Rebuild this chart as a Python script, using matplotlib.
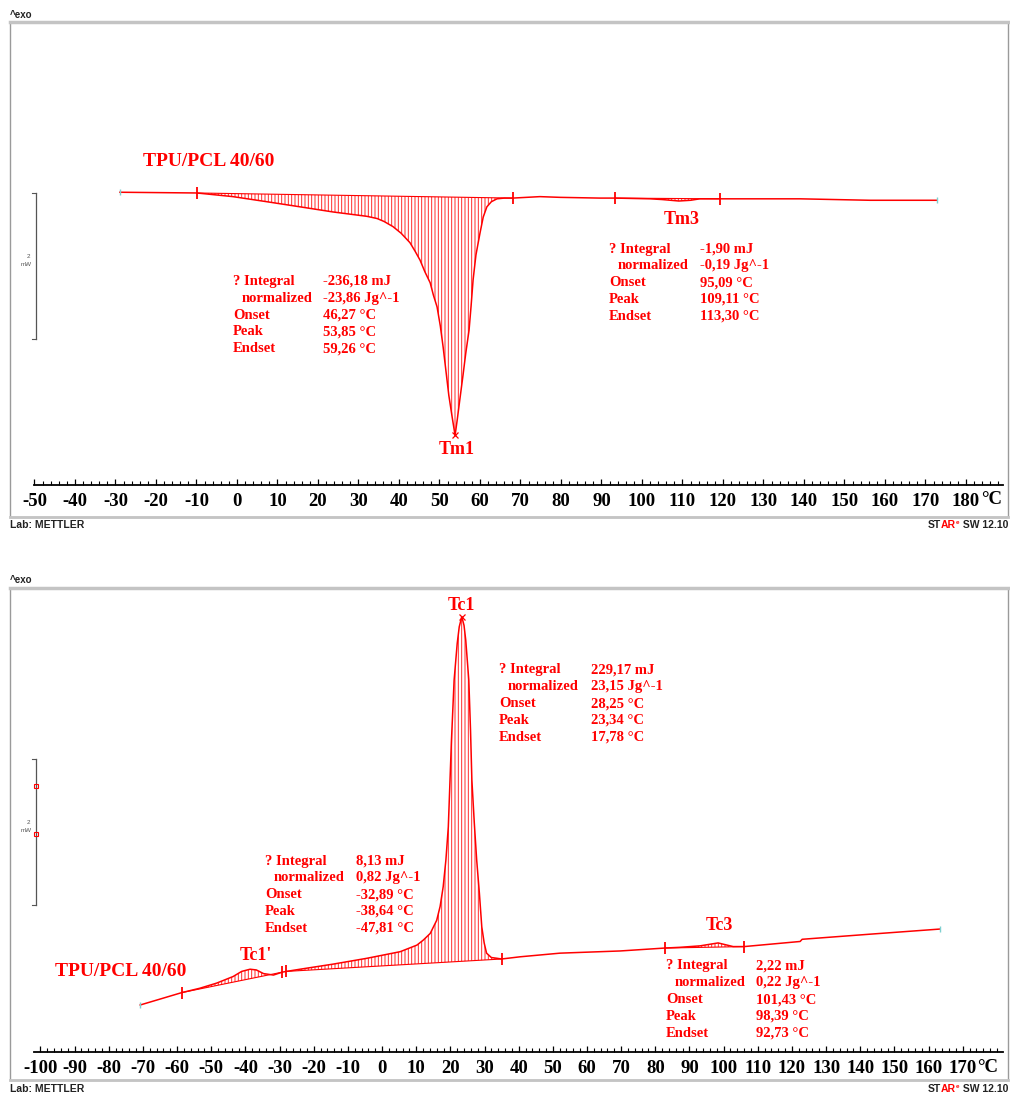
import numpy as np
import matplotlib
matplotlib.use("Agg")
import matplotlib.pyplot as plt
from matplotlib.ticker import MultipleLocator, FixedLocator
from matplotlib.lines import Line2D
from matplotlib.patches import Rectangle

# ------------------------------------------------------------------ data
sample_name = "TPU/PCL 40/60"

# heating run (top panel): temperature (°C) and heat flow (mW)
heat_T = [-28.9, -9.9, -1.0, 7.4, 15.6, 23.7, 32.1, 34.6, 36.3, 38.5, 40.5, 42.7,
          44.0, 45.2, 46.4, 47.7, 48.5, 49.4, 50.2, 50.9, 51.6, 52.3, 53.1, 53.85,
          54.4, 55.0, 55.8, 56.5, 57.3, 57.8, 58.3, 59.0, 60.0, 60.8, 61.7, 62.8,
          64.2, 66.0, 68.1, 74.8, 79.8, 89.6, 93.3, 102.0, 105.0, 109.11, 112.0,
          114.3, 119.3, 139.0, 156.3, 172.8]
heat_mW = [0.01, 0.00, -0.05, -0.12, -0.19, -0.26, -0.32, -0.35, -0.39, -0.46, -0.55,
           -0.68, -0.80, -0.92, -1.08, -1.23, -1.40, -1.56, -1.82, -2.11, -2.44, -2.77,
           -3.06, -3.32, -3.10, -2.84, -2.50, -2.19, -1.88, -1.55, -1.19, -0.85, -0.55,
           -0.33, -0.19, -0.12, -0.08, -0.07, -0.07, -0.05, -0.06, -0.07, -0.07, -0.08,
           -0.09, -0.11, -0.10, -0.08, -0.08, -0.08, -0.10, -0.10]

# cooling run (bottom panel)
cool_T = [-70.8, -58.6, -53.3, -48.4, -43.6, -41.1, -38.64, -36.8, -34.7, -31.8,
          -29.2, -28.0, -24.0, -14.3, -4.4, 5.3, 10.2, 12.1, 14.1, 16.0, 17.0, 17.9,
          18.7, 19.4, 19.9, 20.3, 21.1, 22.0, 22.6, 23.34, 24.0, 24.5, 25.4, 25.9,
          26.3, 27.0, 27.7, 28.5, 29.2, 29.9, 30.6, 32.0, 33.6, 35.0, 40.4, 52.1,
          69.7, 82.8, 87.2, 93.1, 98.39, 102.8, 106.0, 122.4, 123.0, 142.9, 163.3]
cool_mW = [0.00, 0.17, 0.23, 0.30, 0.39, 0.46, 0.49, 0.48, 0.43, 0.41, 0.45, 0.46,
           0.49, 0.56, 0.64, 0.73, 0.82, 0.89, 0.98, 1.16, 1.35, 1.62, 1.99, 2.44,
           3.08, 3.60, 4.45, 4.95, 5.18, 5.32, 5.20, 5.00, 4.45, 3.77, 3.08, 2.50,
           1.99, 1.53, 1.07, 0.85, 0.71, 0.65, 0.64, 0.63, 0.66, 0.71, 0.74, 0.78,
           0.79, 0.81, 0.85, 0.80, 0.80, 0.87, 0.90, 0.97, 1.04]

# integration limits (°C)
heat_limits = [(-9.9, 68.1), (93.3, 119.3)]
cool_limits = [(-58.6, -29.2), (-28.0, 35.0), (82.8, 106.0)]

heat_peaks = [53.85, 109.11]
cool_peaks = [-38.64, 23.34, 98.39]
heat_peak_names = ["Tm1", "Tm3"]
cool_peak_names = ["Tc1'", "Tc1", "Tc3"]

row_labels = ["? Integral", "normalized", "Onset", "Peak", "Endset"]
heat_results = [
    ["-236,18 mJ", "-23,86 Jg^-1", "46,27 °C", "53,85 °C", "59,26 °C"],
    ["-1,90 mJ", "-0,19 Jg^-1", "95,09 °C", "109,11 °C", "113,30 °C"],
]
cool_results = [
    ["8,13 mJ", "0,82 Jg^-1", "-32,89 °C", "-38,64 °C", "-47,81 °C"],
    ["229,17 mJ", "23,15 Jg^-1", "28,25 °C", "23,34 °C", "17,78 °C"],
    ["2,22 mJ", "0,22 Jg^-1", "101,43 °C", "98,39 °C", "92,73 °C"],
]

heat_ticks = list(range(-50, 181, 10))
cool_ticks = list(range(-100, 171, 10))

# ------------------------------------------------------------------ layout
W, H = 1010, 1097
RED = "#ff0000"
SERIF = "Liberation Serif"
SANS = "Liberation Sans"
TICK_FS = 13.5
plt.rcParams["hatch.linewidth"] = 0.7

fig = plt.figure(figsize=(W / 100, H / 100), dpi=100)


def fxy(x, y):
    return x / W, 1 - y / H


def ftext(x, y, s, **kw):
    fx, fy = fxy(x, y)
    return fig.text(fx, fy, s, **kw)


def fline(xs, ys, **kw):
    fx = [x / W for x in xs]
    fy = [1 - y / H for y in ys]
    fig.add_artist(Line2D(fx, fy, transform=fig.transFigure, **kw))


def frame(y_top, y_bot):
    x0, y0 = fxy(10, y_bot)
    fig.add_artist(Rectangle((x0, y0), 998 / W, (y_bot - y_top) / H,
                             transform=fig.transFigure, facecolor="none",
                             edgecolor="#9a9a9a", lw=1.0, zorder=0))
    fline([10, 1008], [y_top, y_top], color="#c4c4c4", lw=2.5, zorder=0)
    fline([10, 1008], [y_bot, y_bot], color="#c4c4c4", lw=2.0, zorder=0)


def panel(axis_y, top_y, xlim, ylim, T, mW, limits, ticks, xmark_peaks):
    ax = fig.add_axes([34 / W, 1 - axis_y / H, 969 / W, (axis_y - top_y) / H])
    ax.set_facecolor("none")
    ax.set_xlim(*xlim)
    ax.set_ylim(*ylim)
    for s in ("top", "left", "right"):
        ax.spines[s].set_visible(False)
    ax.spines["bottom"].set_linewidth(1.3)
    ax.set_yticks([])
    ax.xaxis.set_major_locator(FixedLocator(ticks))
    ax.xaxis.set_minor_locator(MultipleLocator(2))
    ax.set_xticklabels([str(t) for t in ticks], fontfamily=SERIF,
                       fontweight="bold", fontsize=TICK_FS)
    ax.tick_params(axis="x", which="major", direction="in", length=4.5,
                   width=0.9, pad=5.5)
    ax.tick_params(axis="x", which="minor", direction="in", length=3.2,
                   width=0.8)

    Ta = np.array(T)
    Va = np.array(mW)
    # hatched integration areas (closed polygon -> straight baseline)
    for (t0, t1) in limits:
        m = (Ta >= t0) & (Ta <= t1)
        ax.fill(Ta[m], Va[m], facecolor="none", edgecolor="#ff2a2a",
                hatch="|||||", lw=0, zorder=2)
        i0, i1 = T.index(t0), T.index(t1)
        ax.plot([T[i0], T[i1]], [mW[i0], mW[i1]], color=RED, lw=0.8, zorder=3)
        ax.plot([T[i0], T[i1]], [mW[i0], mW[i1]], ls="none", marker="|",
                ms=8, mew=1.3, color=RED, zorder=4)
    ax.plot(T, mW, color=RED, lw=1.1, zorder=4)
    ax.plot([T[0], T[-1]], [mW[0], mW[-1]], ls="none", marker="|", ms=4,
            mew=1.0, color="#7fd0d0", zorder=5)
    for p in xmark_peaks:
        i = T.index(p)
        ax.plot([T[i]], [mW[i]], ls="none", marker="x", ms=4, mew=0.9,
                color=RED, zorder=5)
    return ax


def result_block(x, y, xv, values):
    dy = 16.8
    for k, (lab, val) in enumerate(zip(row_labels, values)):
        xl = x + 8.5 if k == 1 else x
        ftext(xl, y + k * dy, lab, ha="left", va="center", color=RED,
              fontfamily=SERIF, fontweight="bold", fontsize=10.5)
        ftext(xv, y + k * dy, val, ha="left", va="center", color=RED,
              fontfamily=SERIF, fontweight="bold", fontsize=10.5)


def footer(y):
    ftext(10, y, "Lab: METTLER", ha="left", va="center", fontsize=7.5,
          fontfamily=SANS, fontweight="bold", color="#222222")
    fig.canvas.draw()
    r = fig.canvas.get_renderer()
    t = ftext(1008, y, " SW 12.10", ha="right", va="center", fontsize=7.5,
              fontfamily=SANS, fontweight="bold", color="#222222")
    xl = t.get_window_extent(renderer=r).x0
    t = ftext(xl, y - 3, "e", ha="right", va="center", fontsize=4.5,
              fontfamily=SANS, fontweight="bold", color=RED)
    xl = t.get_window_extent(renderer=r).x0
    t = ftext(xl, y, "AR", ha="right", va="center", fontsize=7.5,
              fontfamily=SANS, fontweight="bold", color=RED)
    xl = t.get_window_extent(renderer=r).x0
    ftext(xl, y, "ST", ha="right", va="center", fontsize=7.5,
          fontfamily=SANS, fontweight="bold", color="#222222")


def scale_bar(y0, y1, ytxt, squares=()):
    fline([36, 36], [y0, y1], color="#555555", lw=0.9)
    fline([32, 36], [y0, y0], color="#555555", lw=0.8)
    fline([32, 36], [y1, y1], color="#555555", lw=0.8)
    ftext(28, ytxt - 5, "2", ha="center", va="center", fontsize=4.5,
          fontfamily=SANS, color="#555555")
    ftext(26, ytxt + 3, "mW", ha="center", va="center", fontsize=4.5,
          fontfamily=SANS, color="#555555")
    for ys in squares:
        fx, fy = fxy(36, ys)
        fig.add_artist(Line2D([fx], [fy], transform=fig.transFigure, ls="none",
                              marker="s", ms=3.5, mfc="none", mec=RED, mew=0.8))


# ------------------------------------------------------------------ top panel
ftext(10, 15, "^exo", ha="left", va="center", fontsize=7, fontfamily=SANS,
      fontweight="bold", color="#222222")
frame(22, 517)
panel(485, 22, (-50.12, 189.14), (-4.0, 2.342), heat_T, heat_mW, heat_limits,
      heat_ticks, [53.85])
ftext(992, 500, "°C", ha="center", va="center", fontfamily=SERIF,
      fontweight="bold", fontsize=TICK_FS)
scale_bar(193, 339, 262)
ftext(143, 162, sample_name, ha="left", va="center", color=RED,
      fontfamily=SERIF, fontweight="bold", fontsize=14)
ftext(457, 450, heat_peak_names[0], ha="center", va="center", color=RED,
      fontfamily=SERIF, fontweight="bold", fontsize=13)
ftext(682, 219, heat_peak_names[1], ha="center", va="center", color=RED,
      fontfamily=SERIF, fontweight="bold", fontsize=13)
result_block(233, 281.5, 323, heat_results[0])
result_block(609, 249, 700, heat_results[1])
footer(525)

# ------------------------------------------------------------------ bottom panel
ftext(10, 580, "^exo", ha="left", va="center", fontsize=7, fontfamily=SANS,
      fontweight="bold", color="#222222")
frame(588, 1080)
panel(1052, 588, (-101.9, 181.8), (-0.644, 5.712), cool_T, cool_mW,
      cool_limits, cool_ticks, [23.34])
ftext(988, 1067, "°C", ha="center", va="center", fontfamily=SERIF,
      fontweight="bold", fontsize=TICK_FS)
scale_bar(759, 905, 828, squares=(786, 834))
ftext(55, 972, sample_name, ha="left", va="center", color=RED,
      fontfamily=SERIF, fontweight="bold", fontsize=14)
ftext(256, 955, cool_peak_names[0], ha="center", va="center", color=RED,
      fontfamily=SERIF, fontweight="bold", fontsize=13)
ftext(461, 606, cool_peak_names[1], ha="center", va="center", color=RED,
      fontfamily=SERIF, fontweight="bold", fontsize=13)
ftext(719, 925, cool_peak_names[2], ha="center", va="center", color=RED,
      fontfamily=SERIF, fontweight="bold", fontsize=13)
result_block(265, 861, 356, cool_results[0])
result_block(499, 670, 591, cool_results[1])
result_block(666, 966, 756, cool_results[2])
footer(1089)

fig.savefig("out.png", dpi=100)
